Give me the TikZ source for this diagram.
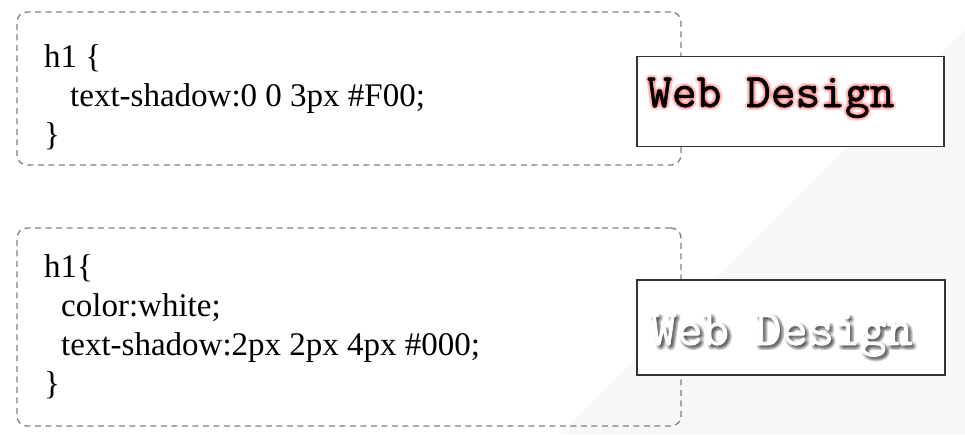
\documentclass[tikz,border=0pt]{standalone}
\usepackage{fontspec}
\setmainfont{Liberation Serif}
\newfontfamily\webfont{Latin Modern Mono}[FakeBold=1.3]
\usetikzlibrary{positioning}

\definecolor{dashgray}{HTML}{7F7F7F}
\definecolor{bgshade}{HTML}{F7F6F8}
\definecolor{glowred}{HTML}{FF0000}

\begin{document}
\begin{tikzpicture}[%
x=1pt, y=-1pt,
codebox/.style={draw=dashgray, line width=1.3pt, dash pattern=on 6pt off 4.5pt,
  rounded corners=10pt, inner sep=0pt},
demobox/.style={draw=black!80, line width=1.2pt, fill=white, inner sep=0pt},
code/.style={anchor=base west, inner sep=0pt, font=\fontsize{33}{39}\selectfont},
web/.style={anchor=base west, inner sep=0pt, font=\webfont\fontsize{48}{48}\selectfont},
bigweb/.style={web, font=\webfont\fontsize{51}{51}\selectfont}
]
\useasboundingbox (0,0) rectangle (965,434);
\fill[bgshade] (560,434) -- (965,30) -- (965,434) -- cycle;

% dashed code boxes
\node[codebox, minimum width=664pt, minimum height=153pt] (box1) at (349,88.5) {};
\node[codebox, minimum width=664pt, minimum height=198pt] (box2) at (349,327) {};

% first rule
\node[code] (h1a) at (44,67) {h1 \{};
\node[code] (sha) at (70,106) {text-shadow:0 0 3px \#F00;};
\node[code] (enda) at (44,145) {\}};

% second rule
\node[code] (h1b) at (44,277) {h1\{};
\node[code] (colb) at (61,316) {color:white;};
\node[code] (shb) at (61,355) {text-shadow:2px 2px 4px \#000;};
\node[code] (endb) at (44,394) {\}};

% result boxes
\node[demobox, minimum width=307pt, minimum height=90pt] (demo1) at (790.5,101.5) {};
\node[demobox, minimum width=308pt, minimum height=95pt] (demo2) at (791,327.5) {};

% red glow
\foreach \dx/\dy [count=\i] in {-3/0,3/0,0/-3,0/3,-2.1/-2.1,2.1/-2.1,-2.1/2.1,2.1/2.1,
    -1.5/0,1.5/0,0/-1.5,0/1.5}
  \node[web, text=glowred, opacity=0.07] (glow\i) at (647+\dx,107+\dy) {Web Design};
\node[web] (web1) at (647,107) {Web Design};

% dark shadow
\foreach \dx [count=\i] in {0.5,1.5,2.5,3.5,4.5}
  \foreach \dy [count=\j] in {0.5,1.5,2.5,3.5,4.5}
    \node[bigweb, text=black, opacity=0.03] (shade\i\j) at (650+\dx,345+\dy) {Web Design};
\node[bigweb, text=white] (web2) at (650,345) {Web Design};
\end{tikzpicture}
\end{document}
